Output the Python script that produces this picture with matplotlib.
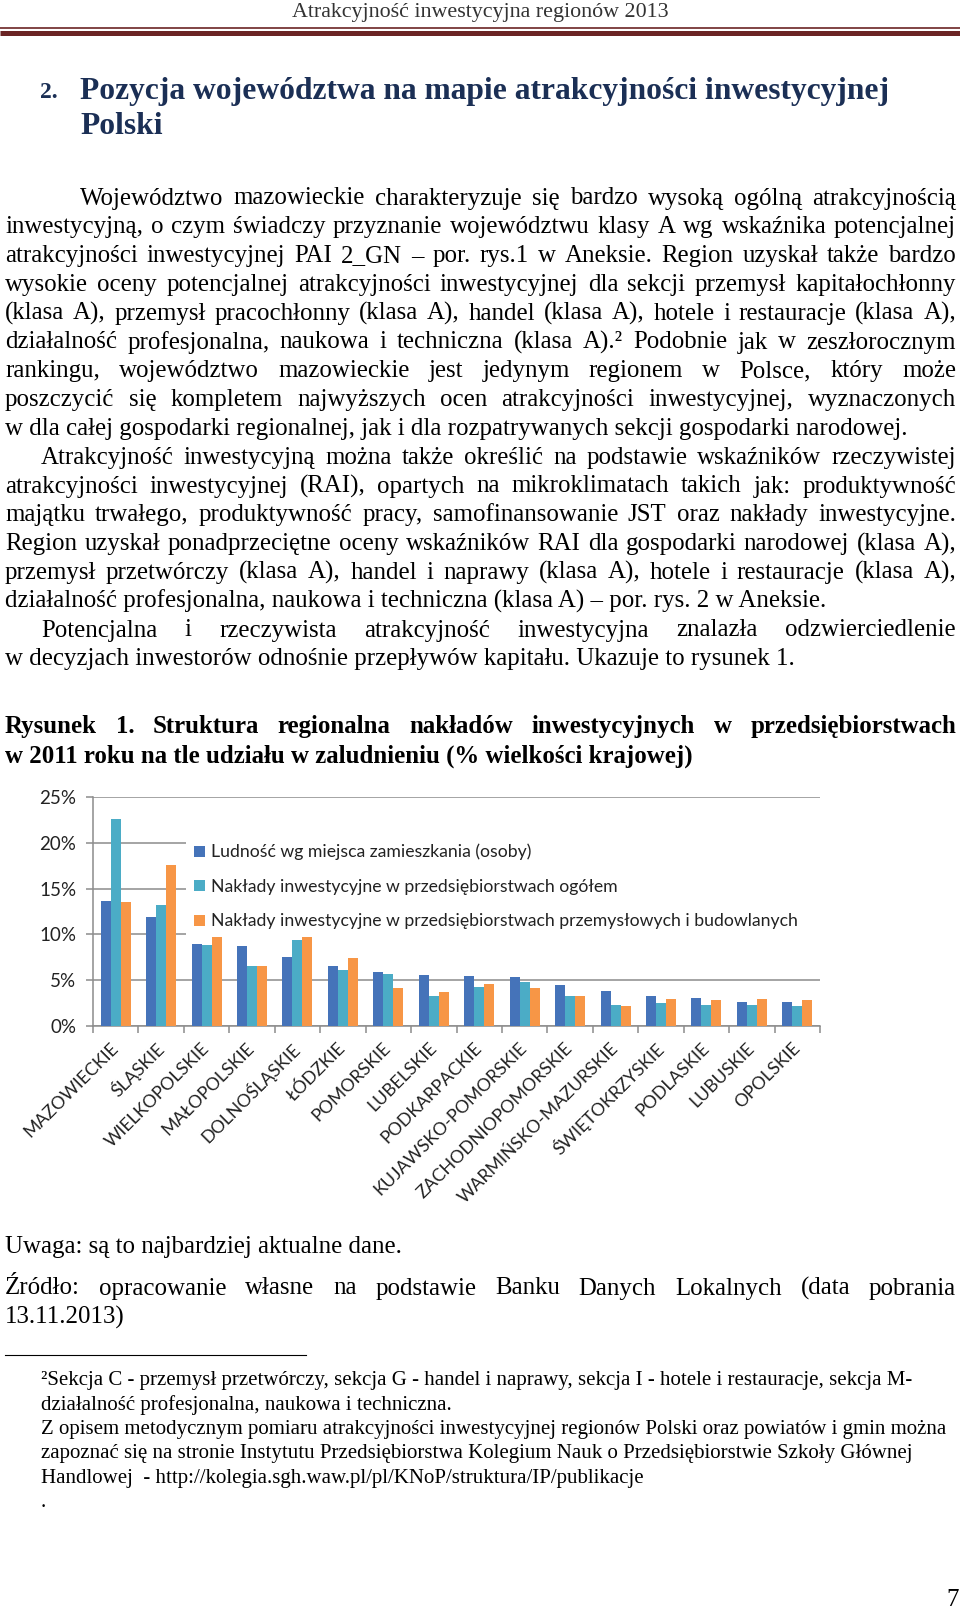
import matplotlib
matplotlib.use("Agg")
import matplotlib.pyplot as plt
import numpy as np

# --- chart data (% of national total) ---
regions = ["MAZOWIECKIE", "ŚLĄSKIE", "WIELKOPOLSKIE", "MAŁOPOLSKIE", "DOLNOŚLĄSKIE",
           "ŁÓDZKIE", "POMORSKIE", "LUBELSKIE", "PODKARPACKIE", "KUJAWSKO-POMORSKIE",
           "ZACHODNIOPOMORSKIE", "WARMIŃSKO-MAZURSKIE", "ŚWIĘTOKRZYSKIE", "PODLASKIE",
           "LUBUSKIE", "OPOLSKIE"]
ludnosc = [13.6, 11.9, 8.9, 8.7, 7.5, 6.6, 5.9, 5.6, 5.5, 5.4, 4.5, 3.8, 3.3, 3.1, 2.6, 2.6]
naklady_ogolem = [22.6, 13.2, 8.8, 6.5, 9.4, 6.1, 5.7, 3.3, 4.3, 4.8, 3.3, 2.3, 2.5, 2.3, 2.3, 2.2]
naklady_przem = [13.5, 17.6, 10.0, 6.5, 10.1, 7.4, 4.1, 3.7, 4.6, 4.1, 3.3, 2.2, 2.9, 2.8, 3.0, 2.8]
series_labels = ["Ludność wg miejsca zamieszkania (osoby)",
                 "Nakłady inwestycyjne w przedsiębiorstwach ogółem",
                 "Nakłady inwestycyjne w przedsiębiorstwach przemysłowych i budowlanych"]
series_colors = ["#4573B9", "#4BACC6", "#F79646"]
y_ticks = [0, 5, 10, 15, 20, 25]

# --- page text ---
page_header = "Atrakcyjność inwestycyjna regionów 2013"
heading_num = "2."
heading_lines = ["Pozycja województwa na mapie atrakcyjności inwestycyjnej", "Polski"]

# (text, justified?, indent)
body_lines = [
    ("Województwo mazowieckie charakteryzuje się bardzo wysoką ogólną atrakcyjnością", True, 80),
    ("inwestycyjną, o czym świadczy przyznanie województwu klasy A wg wskaźnika potencjalnej", True, 5),
    ("atrakcyjności inwestycyjnej PAI 2_GN – por. rys.1 w Aneksie. Region uzyskał także bardzo", True, 5),
    ("wysokie oceny potencjalnej atrakcyjności inwestycyjnej dla sekcji przemysł kapitałochłonny", True, 5),
    ("(klasa A), przemysł pracochłonny (klasa A), handel (klasa A), hotele i restauracje (klasa A),", True, 5),
    ("działalność profesjonalna, naukowa i techniczna (klasa A).² Podobnie jak w zeszłorocznym", True, 5),
    ("rankingu, województwo mazowieckie jest jedynym regionem w Polsce, który może", True, 5),
    ("poszczycić się kompletem najwyższych ocen atrakcyjności inwestycyjnej, wyznaczonych", True, 5),
    ("w dla całej gospodarki regionalnej, jak i dla rozpatrywanych sekcji gospodarki narodowej.", False, 5),
    ("Atrakcyjność inwestycyjną można także określić na podstawie wskaźników rzeczywistej", True, 41),
    ("atrakcyjności inwestycyjnej (RAI), opartych na mikroklimatach takich jak: produktywność", True, 5),
    ("majątku trwałego, produktywność pracy, samofinansowanie JST oraz nakłady inwestycyjne.", True, 5),
    ("Region uzyskał ponadprzeciętne oceny wskaźników RAI dla gospodarki narodowej (klasa A),", True, 5),
    ("przemysł przetwórczy (klasa A), handel i naprawy (klasa A), hotele i restauracje (klasa A),", True, 5),
    ("działalność profesjonalna, naukowa i techniczna (klasa A) – por. rys. 2 w Aneksie.", False, 5),
    ("Potencjalna i rzeczywista atrakcyjność inwestycyjna znalazła odzwierciedlenie", True, 41),
    ("w decyzjach inwestorów odnośnie przepływów kapitału. Ukazuje to rysunek 1.", False, 5),
]
caption_lines = [
    ("Rysunek 1. Struktura regionalna nakładów inwestycyjnych w przedsiębiorstwach", True),
    ("w 2011 roku na tle udziału w zaludnieniu (% wielkości krajowej)", False),
]
note_line = "Uwaga: są to najbardziej aktualne dane."
source_lines = [
    ("Źródło: opracowanie własne na podstawie Banku Danych Lokalnych (data pobrania", True),
    ("13.11.2013)", False),
]
footnotes = [
    "²Sekcja C - przemysł przetwórczy, sekcja G - handel i naprawy, sekcja I - hotele i restauracje, sekcja M-",
    "działalność profesjonalna, naukowa i techniczna.",
    "Z opisem metodycznym pomiaru atrakcyjności inwestycyjnej regionów Polski oraz powiatów i gmin można",
    "zapoznać się na stronie Instytutu Przedsiębiorstwa Kolegium Nauk o Przedsiębiorstwie Szkoły Głównej",
    "Handlowej  - http://kolegia.sgh.waw.pl/pl/KNoP/struktura/IP/publikacje",
    ".",
]
page_number = "7"

W, H = 960, 1612
SERIF = "Liberation Serif"
CHART_FONT = "Lato"
RIGHT = 956

fig = plt.figure(figsize=(W / 100, H / 100), dpi=100)
renderer = fig.canvas.get_renderer()

# --- chart ---
left, right, top, bottom = 93, 820, 797, 1026
ax = fig.add_axes([left / W, 1 - bottom / H, (right - left) / W, (bottom - top) / H])
x = np.arange(len(regions))
bw = 0.22
for i, (vals, col, lab) in enumerate(zip([ludnosc, naklady_ogolem, naklady_przem], series_colors, series_labels)):
    ax.bar(x + (i - 1) * bw, vals, width=bw, color=col, label=lab, zorder=3)
ax.set_xlim(-0.5, len(regions) - 0.5)
ax.set_ylim(0, 25)
ax.set_yticks(y_ticks)
ax.set_yticklabels([f"{t}%" for t in y_ticks], fontsize=13.5, family=CHART_FONT, color="#222222")
ax.yaxis.grid(True, color="#8C8C8C", linewidth=1.1, zorder=0)
ax.set_xticks(x)
ax.set_xticklabels(regions, rotation=45, ha="right", va="center", rotation_mode="anchor",
                   fontsize=12.8, family=CHART_FONT, color="#222222")
ax.set_xticks(np.arange(len(regions) + 1) - 0.5, minor=True)
ax.tick_params(axis="x", which="major", length=0, pad=14)
ax.tick_params(axis="x", which="minor", length=5, color="#8C8C8C", width=1.1)
ax.tick_params(axis="y", length=5, color="#8C8C8C", width=1.1, pad=7)
for s in ["top", "right"]:
    ax.spines[s].set_visible(False)
for s in ["left", "bottom"]:
    ax.spines[s].set_color("#8C8C8C")
    ax.spines[s].set_linewidth(1.1)
leg = ax.legend(loc="upper left", bbox_to_anchor=(0.128, 0.43, 0.872, 0.40), mode="expand",
                prop={"family": CHART_FONT, "size": 12.7}, frameon=True, fancybox=False,
                edgecolor="none", facecolor="white", framealpha=1, handlelength=0.6,
                handleheight=0.6, handletextpad=0.35, labelspacing=1.05, borderpad=0.45,
                borderaxespad=0)
leg.set_zorder(5)
for t in leg.get_texts():
    t.set_color("#222222")

# --- page overlay in pixel coordinates ---
pg = fig.add_axes([0, 0, 1, 1], zorder=10)
pg.set_xlim(0, W)
pg.set_ylim(H, 0)
pg.axis("off")


def put(text, x0, y, justify_to=None, **kw):
    kw.setdefault("family", SERIF)
    kw.setdefault("color", "black")
    if justify_to is None:
        return pg.text(x0, y, text, va="center", ha="left", **kw)
    words = text.split()
    items = [pg.text(0, y, w, va="center", ha="left", **kw) for w in words]
    widths = [t.get_window_extent(renderer).width for t in items]
    gap = (justify_to - x0 - sum(widths)) / max(len(words) - 1, 1)
    xx = x0
    for t, w in zip(items, widths):
        t.set_x(xx)
        xx += w + gap


# header band
pg.text(W / 2, 12, page_header, ha="center", va="center", family=SERIF, fontsize=15.8, color="#333333")
pg.plot([0, W], [27.5, 27.5], color="#6B2424", linewidth=1.2, solid_capstyle="butt")
pg.plot([0, W], [32.5, 32.5], color="#6B2424", linewidth=3.6, solid_capstyle="butt")

# heading
navy = "#1B2F55"
pg.text(40, 92, heading_num, ha="left", va="center", family=SERIF, fontsize=17, weight="bold", color=navy)
for i, hl in enumerate(heading_lines):
    pg.text(80, 91 + i * 35.5, hl, ha="left", va="center", family=SERIF, fontsize=22.7, weight="bold", color=navy)

# body
body_size = 17.9
for i, (txt, just, ind) in enumerate(body_lines):
    y = 198.5 + i * 28.8
    put(txt, ind, y, RIGHT if just else None, fontsize=body_size)

for i, (txt, just) in enumerate(caption_lines):
    put(txt, 5, 726.5 + i * 29.8, RIGHT if just else None, fontsize=body_size, weight="bold")

put(note_line, 5, 1247.5, fontsize=body_size)
for i, (txt, just) in enumerate(source_lines):
    put(txt, 5, 1288.5 + i * 28.8, RIGHT if just else None, fontsize=body_size)

pg.plot([5, 306], [1354.6, 1354.6], color="black", linewidth=0.8)
for i, fn in enumerate(footnotes):
    put(fn, 41, 1380.8 + i * 24.3, fontsize=15)

pg.text(946, 1600, page_number, ha="left", va="center", family=SERIF, fontsize=18)

fig.savefig("out.png", dpi=100)
